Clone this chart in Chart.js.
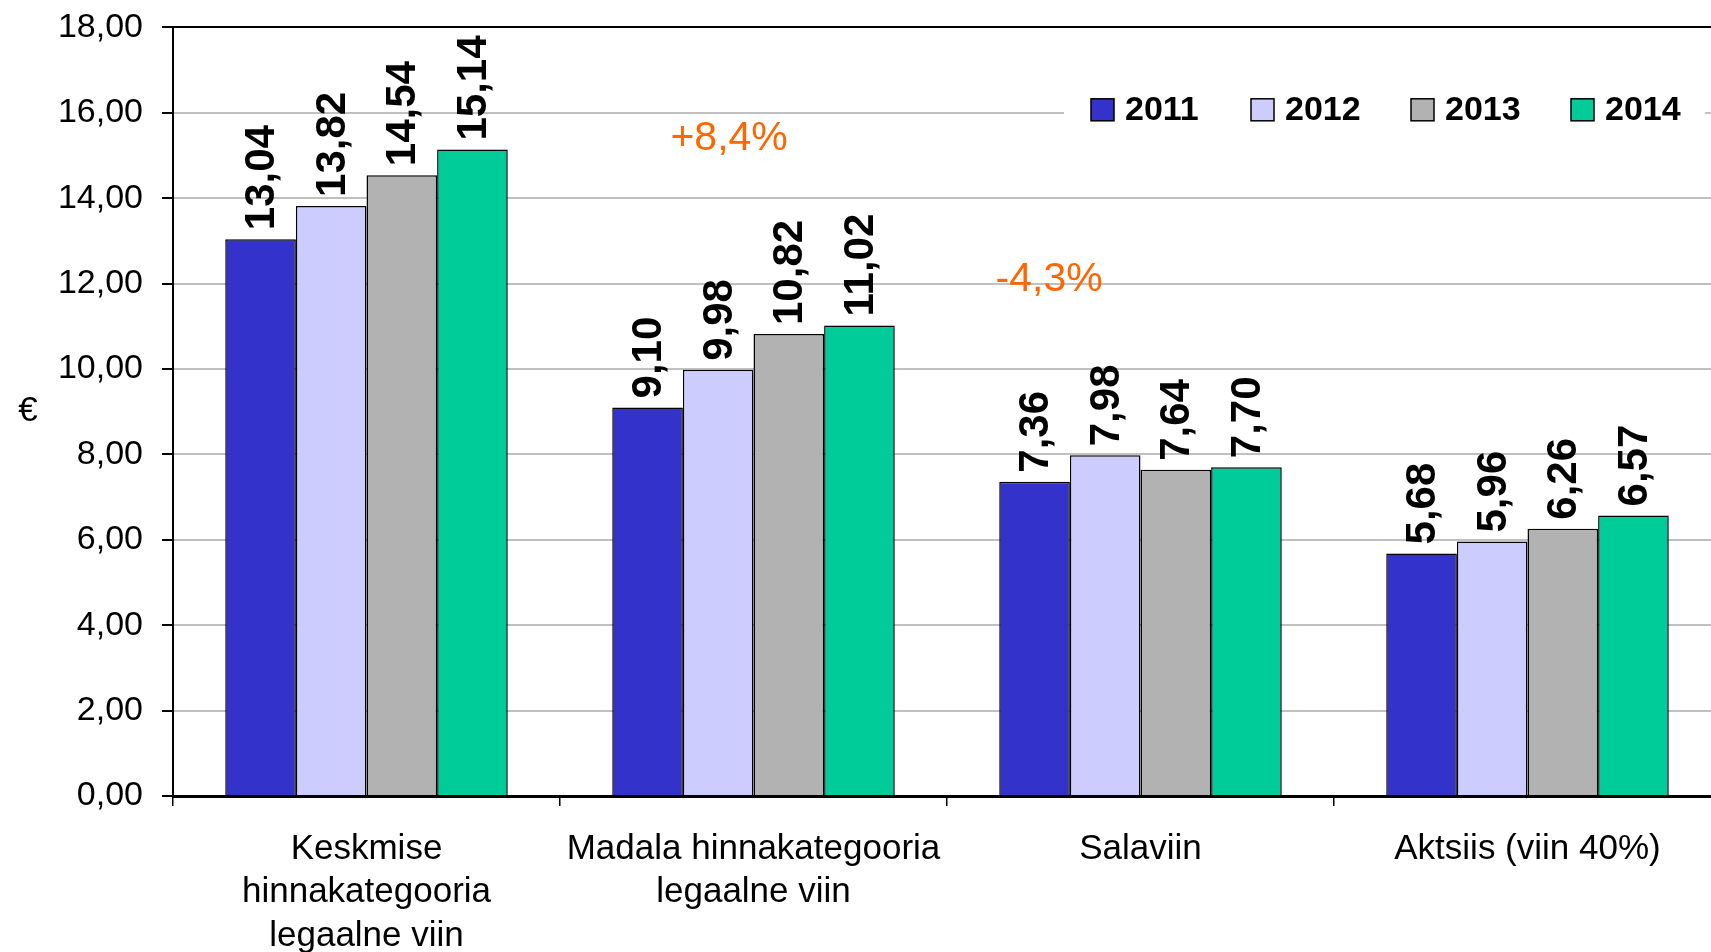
<!DOCTYPE html>
<html>
<head>
<meta charset="utf-8">
<script src="https://cdn.jsdelivr.net/npm/chart.js@4.4.1/dist/chart.umd.min.js"></script>
<style>
  html, body { margin: 0; padding: 0; background: #fff; overflow: hidden; }
  #wrap { position: absolute; left: 0; top: -12px; width: 1725px; height: 964px; }
</style>
</head>
<body>
<div id="wrap"><canvas id="price-chart"></canvas></div>
<script>
// categories on the x axis
const categories = [
    ['Keskmise', 'hinnakategooria', 'legaalne viin'],
    ['Madala hinnakategooria', 'legaalne viin'],
    'Salaviin',
    'Aktsiis (viin 40%)'
];
const years = ['2011', '2012', '2013', '2014'];

// price per bottle, euro
const values2011 = [13.04, 9.10, 7.36, 5.68];
const values2012 = [13.82, 9.98, 7.98, 5.96];
const values2013 = [14.54, 10.82, 7.64, 6.26];
const values2014 = [15.14, 11.02, 7.70, 6.57];

const changeNotes = ['+8,4%', '-4,3%'];

const FONT = '"Liberation Sans", Arial, Helvetica, sans-serif';
Chart.defaults.font.family = FONT;
Chart.defaults.color = '#000';

function fmt(v) {
    return v.toFixed(2).replace('.', ',');
}

function getColor(year) {
    if (year === '2011') return '#3333cc';
    if (year === '2012') return '#ccccff';
    if (year === '2013') return '#b2b2b2';
    if (year === '2014') return '#00cc99';
}

// rotated value labels on top of bars
const barLabels = {
    id: 'barLabels',
    afterDatasetsDraw(chart) {
        const ctx = chart.ctx;
        ctx.save();
        ctx.font = 'bold 42px ' + FONT;
        ctx.fillStyle = '#000';
        ctx.textAlign = 'left';
        ctx.textBaseline = 'middle';
        chart.data.datasets.forEach((ds, i) => {
            chart.getDatasetMeta(i).data.forEach((bar, j) => {
                ctx.save();
                ctx.translate(bar.x + 2, bar.y - 9);
                ctx.rotate(-Math.PI / 2);
                ctx.fillText(fmt(ds.data[j]), 0, 0);
                ctx.restore();
            });
        });
        ctx.restore();
    }
};

// legend inside the plot, white box over the gridline
const boxLegend = {
    id: 'boxLegend',
    beforeDatasetsDraw(chart) {
        const ctx = chart.ctx;
        const cy = chart.scales.y.getPixelForValue(16) - 3;
        ctx.save();
        ctx.fillStyle = '#fff';
        ctx.fillRect(1064, cy - 20, 641, 40);
        ctx.font = 'bold 34px ' + FONT;
        ctx.textAlign = 'left';
        ctx.textBaseline = 'middle';
        chart.data.datasets.forEach((ds, i) => {
            const x = 1091 + i * 160;
            ctx.fillStyle = ds.backgroundColor;
            ctx.fillRect(x, cy - 11, 23, 22);
            ctx.strokeStyle = '#000';
            ctx.lineWidth = 1.5;
            ctx.strokeRect(x, cy - 11, 23, 22);
            ctx.fillStyle = '#000';
            ctx.fillText(ds.label, x + 34, cy + 1);
        });
        ctx.restore();
    }
};

// orange change notes and the upright euro sign
const notes = {
    id: 'notes',
    afterDatasetsDraw(chart) {
        const ctx = chart.ctx;
        const xs = chart.scales.x, ys = chart.scales.y;
        const spots = [[0.937, 15.4], [1.764, 12.1]];
        ctx.save();
        ctx.font = '41px ' + FONT;
        ctx.fillStyle = '#ff6600';
        ctx.textAlign = 'center';
        ctx.textBaseline = 'middle';
        changeNotes.forEach((t, i) => {
            ctx.fillText(t, xs.getPixelForValue(spots[i][0]), ys.getPixelForValue(spots[i][1]));
        });
        ctx.font = '35px ' + FONT;
        ctx.fillStyle = '#000';
        ctx.fillText('€', 28, (chart.chartArea.top + chart.chartArea.bottom) / 2);
        ctx.restore();
    }
};

const seriesValues = [values2011, values2012, values2013, values2014];

new Chart(document.querySelector('#price-chart').getContext('2d'), {
    type: 'bar',
    data: {
        labels: categories,
        datasets: years.map((year, i) => ({
            label: year,
            data: seriesValues[i],
            backgroundColor: getColor(year),
            borderColor: '#000',
            borderWidth: 1.5,
            categoryPercentage: 0.73,
            barPercentage: 1.0
        }))
    },
    options: {
        responsive: true,
        maintainAspectRatio: false,
        animation: false,
        layout: { padding: { left: 2, right: 4, top: 6, bottom: 0 } },
        plugins: {
            legend: { display: false },
            tooltip: { enabled: false }
        },
        scales: {
            x: {
                ticks: { font: { size: 35, lineHeight: 1.25 }, color: '#000', padding: 21, maxRotation: 0, autoSkip: false },
                grid: { drawOnChartArea: false, tickLength: 10, color: '#000', lineWidth: 1.5, offset: true },
                border: { color: '#000', width: 3 },
                afterFit(scale) { scale.height = 156; }
            },
            y: {
                min: 0,
                max: 18,
                ticks: { stepSize: 2, font: { size: 34 }, color: '#000', padding: 19, callback: v => fmt(v) },
                grid: {
                    color: c => (c.tick && c.tick.value === 18) ? '#000' : '#c0c0c0',
                    lineWidth: 2,
                    tickColor: '#000',
                    tickLength: 11,
                    tickWidth: 2
                },
                border: { color: '#000', width: 2 },
                afterFit(scale) { scale.width = 171; }
            }
        }
    },
    plugins: [boxLegend, barLabels, notes]
});
</script>
</body>
</html>
